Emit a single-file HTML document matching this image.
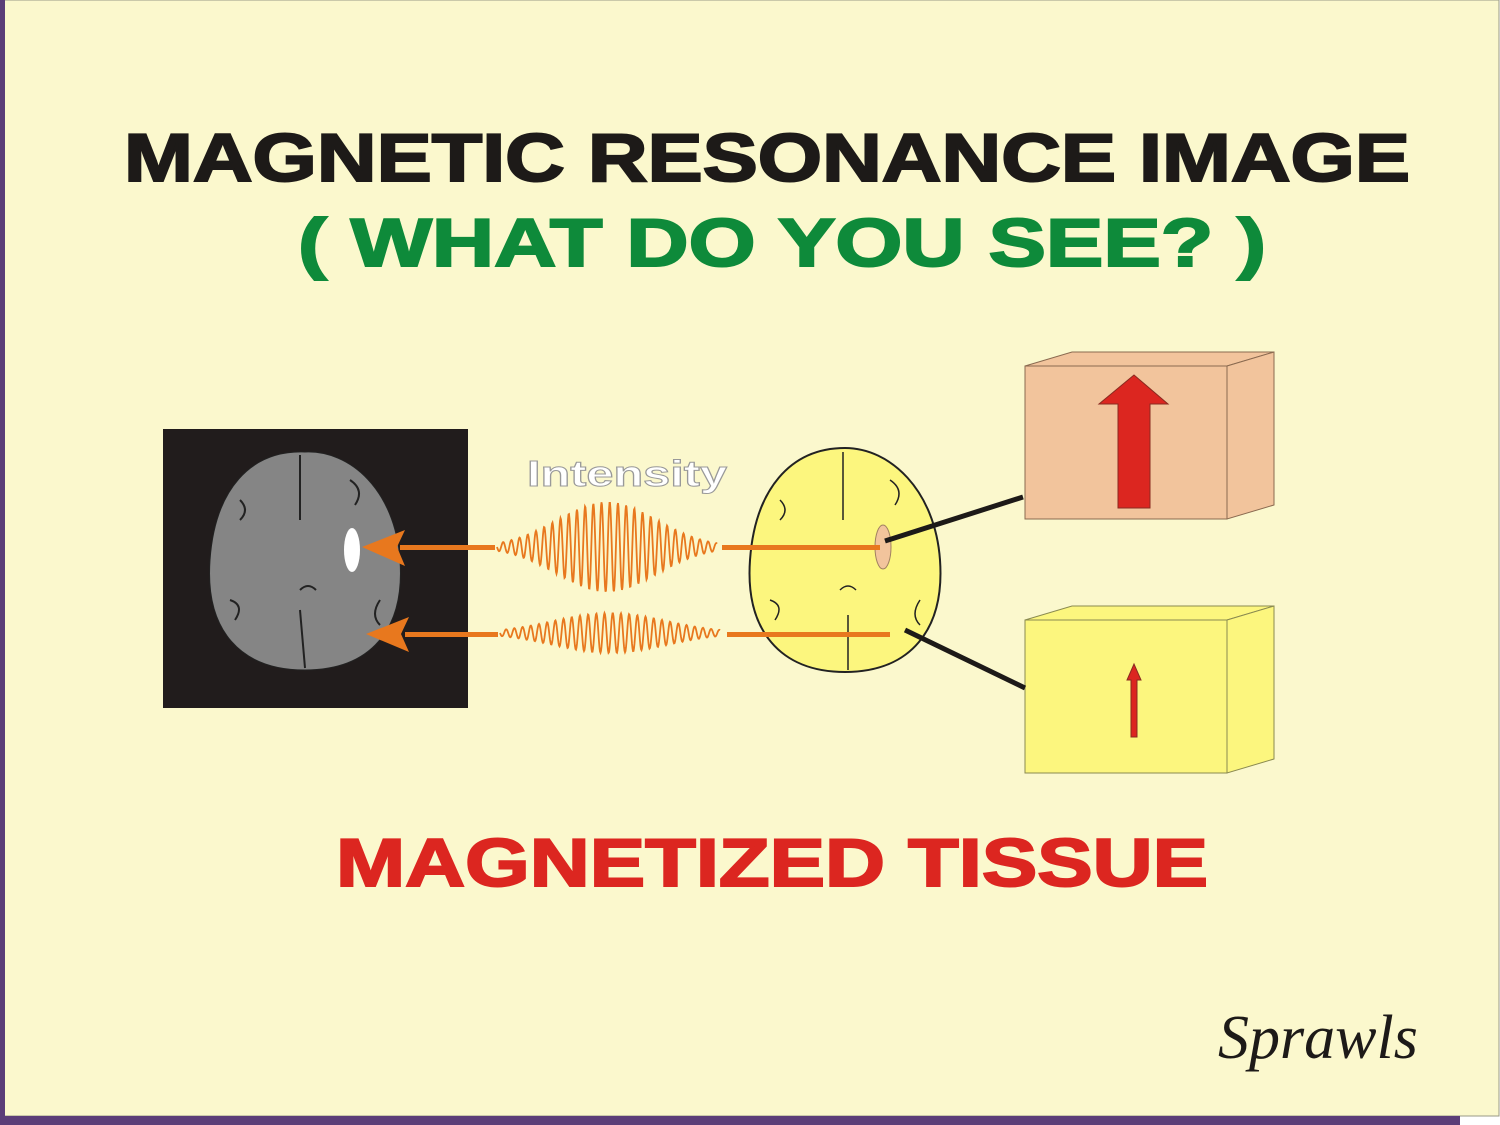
<!DOCTYPE html>
<html><head><style>body{margin:0;background:#fff}svg{display:block}</style></head><body>
<svg width="1500" height="1125" viewBox="0 0 1500 1125" xmlns="http://www.w3.org/2000/svg">
<rect x="0" y="0" width="1500" height="1125" fill="#fff"/>
<rect x="0" y="0" width="1499" height="1116" fill="#fbf8cd" stroke="#9a9a86" stroke-width="1"/>
<rect x="0" y="0" width="5" height="1125" fill="#5b3e78"/>
<rect x="0" y="1116" width="1460" height="9" fill="#5b3e78"/>
<g font-family="Liberation Sans, sans-serif" font-weight="bold">
<text x="124" y="181" font-size="68" fill="#1d1a18" textLength="1286" lengthAdjust="spacingAndGlyphs" stroke="#1d1a18" stroke-width="2">MAGNETIC  RESONANCE  IMAGE</text>
<text x="298" y="266" font-size="68" fill="#0e8a3a" textLength="968" lengthAdjust="spacingAndGlyphs" stroke="#0e8a3a" stroke-width="2">( WHAT  DO  YOU  SEE? )</text>
<text x="336" y="886" font-size="68" fill="#dc2620" textLength="872" lengthAdjust="spacingAndGlyphs" stroke="#dc2620" stroke-width="2">MAGNETIZED  TISSUE</text>
<text x="527" y="486" font-size="36" fill="#fff" stroke="#999" stroke-width="1" textLength="200" lengthAdjust="spacingAndGlyphs">Intensity</text>
</g>
<text x="1218" y="1058" font-family="Liberation Serif, serif" font-style="italic" font-size="62" fill="#1d1a18">Sprawls</text>
<rect x="163" y="429" width="305" height="279" fill="#211c1c"/>
<path d="M305 452 C350 450 395 490 400 560 C405 630 370 670 305 670 C240 670 205 630 210 560 C215 490 250 450 305 452 Z" fill="#858585" stroke="#222" stroke-width="1"/>
<path d="M300 455 L300 520 M300 610 L305 668 M240 500 q10 10 0 20 M350 480 q15 10 5 25 M230 600 q15 5 5 20 M380 600 q-10 15 0 25 M300 590 q8 -8 16 0" stroke="#222" stroke-width="2" fill="none"/>
<ellipse cx="352" cy="550" rx="8" ry="22" fill="#fff"/>
<path d="M845 448 C890 448 935 490 940 560 C945 630 910 672 845 672 C780 672 745 630 750 560 C755 490 790 448 845 448 Z" fill="#fcf67e" stroke="#222" stroke-width="2"/>
<path d="M843 452 L843 520 M848 615 L848 670 M780 500 q10 10 0 20 M890 480 q15 10 5 25 M770 600 q15 5 5 20 M920 600 q-10 15 0 25 M840 590 q8 -8 16 0" stroke="#222" stroke-width="1.5" fill="none"/>
<ellipse cx="883" cy="547" rx="8" ry="22" fill="#f2c49c" stroke="#a08060" stroke-width="1"/>
<path d="M1025 366 L1072 352 L1274 352 L1227 366 Z" fill="#f2c49c" stroke="#8a6a50" stroke-width="1"/>
<path d="M1227 366 L1274 352 L1274 505 L1227 519 Z" fill="#f2c49c" stroke="#8a6a50" stroke-width="1"/>
<rect x="1025" y="366" width="202" height="153" fill="#f2c49c" stroke="#8a6a50" stroke-width="1"/>
<path d="M1025 620 L1072 606 L1274 606 L1227 620 Z" fill="#fcf67e" stroke="#8a8a50" stroke-width="1"/>
<path d="M1227 620 L1274 606 L1274 759 L1227 773 Z" fill="#fcf67e" stroke="#8a8a50" stroke-width="1"/>
<rect x="1025" y="620" width="202" height="153" fill="#fcf67e" stroke="#8a8a50" stroke-width="1"/>
<path d="M1118 404 L1099 404 L1134 375 L1168 404 L1150 404 L1150 508 L1118 508 Z" fill="#dc2620" stroke="#8a2a20" stroke-width="1"/>
<path d="M1131 680 L1127 680 L1134 664 L1141 680 L1137 680 L1137 737 L1131 737 Z" fill="#dc2620" stroke="#8a2a20" stroke-width="1"/>
<line x1="885" y1="541" x2="1023" y2="497" stroke="#1d1a18" stroke-width="5"/>
<line x1="905" y1="630" x2="1025" y2="688" stroke="#1d1a18" stroke-width="5"/>
<g fill="#e8781e">
<rect x="400" y="545" width="95" height="5"/>
<path d="M362 547 L405 530 L397 547 L405 566 Z"/>
<rect x="405" y="632" width="93" height="5"/>
<path d="M366 634 L409 617 L401 634 L409 652 Z"/>
<rect x="722" y="545" width="158" height="5"/>
<rect x="727" y="632" width="163" height="5"/>
</g>
<polyline id="w1" fill="none" stroke="#e8781e" stroke-width="1.8"/>
<polyline id="w2" fill="none" stroke="#e8781e" stroke-width="1.8"/>
<script>
function wave(id,x0,x1,cy,amp,cx,sig,per){var p=[];for(var x=x0;x<=x1;x+=0.5){var a=amp*Math.exp(-Math.pow((x-cx)/sig,2));p.push(x+","+(cy+a*Math.sin(2*Math.PI*(x-x0)/per)).toFixed(1));}document.getElementById(id).setAttribute("points",p.join(" "));}
wave("w1",497,717,547,45,607,70,8.2);
wave("w2",500,720,633,20,610,80,8.2);
</script>
</svg>
</body></html>
